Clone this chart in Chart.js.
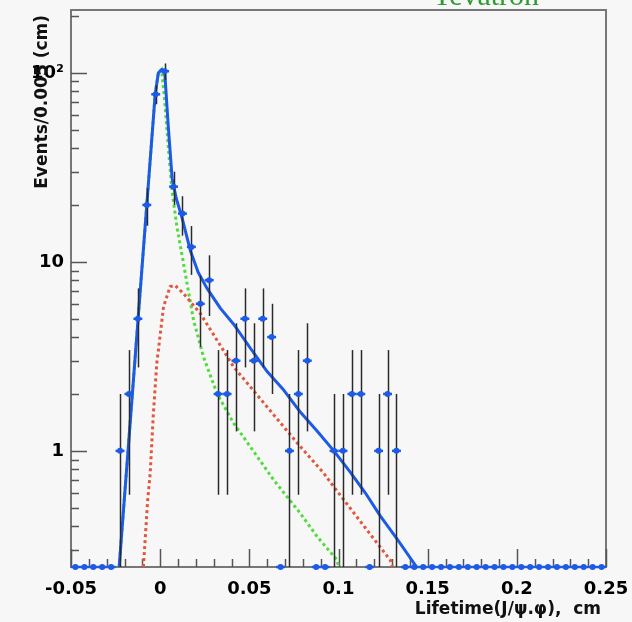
<!DOCTYPE html>
<html><head><meta charset="utf-8">
<script src="https://cdn.jsdelivr.net/npm/chart.js@4/dist/chart.umd.min.js"></script>
<style>html,body{margin:0;padding:0;background:#f7f7f7;}canvas{display:block;}</style>
</head><body>
<canvas id="c" width="632" height="622"></canvas>
<script>
// ---- data ----
const binWidth = 0.005;
const binCenters = [-0.0475,-0.0425,-0.0375,-0.0325,-0.0275,-0.0225,-0.0175,-0.0125,-0.0075,-0.0025,
  0.0025,0.0075,0.0125,0.0175,0.0225,0.0275,0.0325,0.0375,0.0425,0.0475,
  0.0525,0.0575,0.0625,0.0675,0.0725,0.0775,0.0825,0.0875,0.0925,0.0975,
  0.1025,0.1075,0.1125,0.1175,0.1225,0.1275,0.1325,0.1375,0.1425,0.1475,
  0.1525,0.1575,0.1625,0.1675,0.1725,0.1775,0.1825,0.1875,0.1925,0.1975,
  0.2025,0.2075,0.2125,0.2175,0.2225,0.2275,0.2325,0.2375,0.2425,0.2475];
const counts = [0,0,0,0,0,1,2,5,20,77,
  102,25,18,12,6,8,2,2,3,5,
  3,5,4,0,1,2,3,0,0,1,
  1,2,2,0,1,2,1,0,0,0,
  0,0,0,0,0,0,0,0,0,0,
  0,0,0,0,0,0,0,0,0,0];
const xTickValues = [-0.05,0,0.05,0.1,0.15,0.2,0.25];
const xTickLabels = ["-0.05","0","0.05","0.1","0.15","0.2","0.25"];
const yTickValues = [1,10,100];
const yTickLabels = ["1","10","10\u00B2"];
// total fit (blue solid)
const totalX = [-0.0230,-0.0075,-0.0028,-0.0010,0.0008,0.0025,0.0045,0.0067,0.0090,0.0122,0.0169,0.0213,0.0262,0.0337,0.0412,0.0506,0.0601,0.0694,0.0787,0.0881,0.0974,0.1067,0.1150,0.1236,0.1330,0.1438];
const totalY = [0.243,20,77,100,104,103,52.8,27.7,21.7,17.2,11.5,8.8,7.26,5.69,4.68,3.49,2.62,2.09,1.6,1.27,1.0,0.77,0.6,0.45,0.34,0.243];
// prompt component (green dotted)
const promptX = [-0.0230,-0.0075,-0.0028,-0.0010,0.0008,0.0025,0.0047,0.0066,0.0094,0.0131,0.0187,0.0243,0.0319,0.0412,0.0506,0.0637,0.0787,0.0881,0.0993,0.1000];
const promptY = [0.243,20,77,100,104,72,39,24,15.3,9.8,4.92,3.14,2.01,1.40,1.05,0.70,0.466,0.351,0.264,0.243];
// signal component (red dotted)
const signalX = [-0.0094,-0.0070,-0.0056,-0.0038,-0.0019,0.0019,0.0056,0.0084,0.0131,0.0225,0.0319,0.0412,0.0506,0.0599,0.0693,0.0787,0.0918,0.0974,0.1161,0.1292,0.1303];
const signalY = [0.243,0.548,0.76,1.58,2.9,5.8,7.4,7.5,6.8,5.33,3.85,2.78,2.18,1.71,1.34,1.05,0.76,0.645,0.38,0.263,0.243];

const yMin = 0.243, yMax = 215;
const xMin = -0.05, xMax = 0.25;

const BLUE = '#1d5ae6', RED = '#e2573f', GREEN = '#4fdc3c';

const toPts = (xs, ys) => xs.map((x, i) => ({x, y: ys[i]}));
const dataPts = [], zeroPts = [];
binCenters.forEach((x, i) => {
  if (counts[i] > 0) dataPts.push({x, y: counts[i], n: counts[i]});
  else zeroPts.push({x, y: yMin, n: 0});
});

const decorPlugin = {
  id: 'decor',
  beforeDatasetsDraw(chart) {
    const {ctx, chartArea: a, scales: {x, y}} = chart;
    ctx.save();
    ctx.strokeStyle = '#777';
    ctx.lineWidth = 2;
    ctx.strokeRect(a.left, a.top, a.right - a.left, a.bottom - a.top);
    ctx.lineWidth = 1.5;
    ctx.strokeStyle = '#555';
    for (let e = -1; e <= 2; e++) {
      for (let k = 1; k <= 9; k++) {
        const v = k * Math.pow(10, e);
        if (v < yMin || v > yMax) continue;
        const py = Math.round(y.getPixelForValue(v)) + 0.5;
        ctx.beginPath();
        ctx.moveTo(a.left, py);
        ctx.lineTo(a.left + (k === 1 ? 16 : 8), py);
        ctx.stroke();
      }
    }
    for (let j = -5; j <= 25; j++) {
      const v = j / 100;
      const px = Math.round(x.getPixelForValue(v)) + 0.5;
      const len = (j % 5 === 0) ? 18 : 8;
      ctx.beginPath();
      ctx.moveTo(px, a.bottom);
      ctx.lineTo(px, a.bottom - len);
      ctx.stroke();
    }
    ctx.restore();
  },
  beforeDatasetDraw(chart, args) {
    if (args.index !== 0 && args.index !== 1) return;
    const {ctx, chartArea: a, scales: {x, y}} = chart;
    const ds = chart.data.datasets[args.index].data;
    ctx.save();
    ds.forEach(p => {
      const px = x.getPixelForValue(p.x);
      if (p.n > 0) {
        const err = Math.sqrt(p.n);
        const hi = Math.min(p.n + err, yMax);
        const lo = Math.max(p.n - err, yMin);
        ctx.strokeStyle = '#2a2a2a';
        ctx.lineWidth = 1.5;
        ctx.beginPath();
        ctx.moveTo(Math.round(px) + 0.5, y.getPixelForValue(hi));
        ctx.lineTo(Math.round(px) + 0.5, Math.min(y.getPixelForValue(lo), a.bottom));
        ctx.stroke();
      }
      const py = y.getPixelForValue(p.y);
      ctx.strokeStyle = BLUE;
      ctx.lineWidth = 2.5;
      ctx.beginPath();
      ctx.moveTo(x.getPixelForValue(p.x - binWidth / 2), py);
      ctx.lineTo(x.getPixelForValue(p.x + binWidth / 2), py);
      ctx.stroke();
    });
    ctx.restore();
  },
  afterDraw(chart) {
    const {ctx, chartArea: a} = chart;
    ctx.save();
    ctx.fillStyle = '#111';
    ctx.font = 'bold 17px "DejaVu Sans", sans-serif';
    ctx.translate(47, a.top + 5);
    ctx.rotate(-Math.PI / 2);
    ctx.textAlign = 'right';
    ctx.textBaseline = 'alphabetic';
    ctx.fillText('Events/0.005 (cm)', 0, 0);
    ctx.restore();
    ctx.save();
    ctx.fillStyle = '#111';
    ctx.font = 'bold 17px "DejaVu Sans", sans-serif';
    ctx.textAlign = 'right';
    ctx.textBaseline = 'alphabetic';
    ctx.fillText('Lifetime(J/\u03C8.\u03C6),  cm', a.right - 5, 614);
    ctx.fillStyle = '#2f9a2f';
    ctx.font = '30px "Liberation Serif", "Times New Roman", serif';
    ctx.textAlign = 'center';
    ctx.fillText('Tevatron', 486, 5);
    ctx.restore();
  }
};

new Chart(document.getElementById('c'), {
  type: 'scatter',
  data: {
    datasets: [
      {label: 'data', data: dataPts, pointRadius: 3, pointHoverRadius: 3, backgroundColor: BLUE, borderColor: BLUE, borderWidth: 0, showLine: false, order: 0, clip: false},
      {label: 'zero', data: zeroPts, pointRadius: 3, pointHoverRadius: 3, backgroundColor: BLUE, borderColor: BLUE, borderWidth: 0, showLine: false, order: 0, clip: false},
      {label: 'total', data: toPts(totalX, totalY), showLine: true, borderColor: BLUE, borderWidth: 3, pointRadius: 0, tension: 0, borderJoinStyle: 'round', order: 1},
      {label: 'signal', data: toPts(signalX, signalY), showLine: true, borderColor: RED, borderWidth: 3, borderDash: [3, 3], pointRadius: 0, tension: 0, order: 2},
      {label: 'prompt', data: toPts(promptX, promptY), showLine: true, borderColor: GREEN, borderWidth: 3, borderDash: [3, 3], pointRadius: 0, tension: 0, order: 2}
    ]
  },
  options: {
    responsive: false,
    animation: false,
    events: [],
    layout: {padding: {top: 10, right: 26, left: 0, bottom: 0}},
    plugins: {legend: {display: false}, tooltip: {enabled: false}},
    scales: {
      x: {
        type: 'linear', min: xMin, max: xMax,
        grid: {display: false, drawTicks: false},
        border: {display: false},
        afterBuildTicks: s => { s.ticks = xTickValues.map(v => ({value: v})); },
        afterFit: s => { s.height = 55; s.paddingLeft = 0; s.paddingRight = 0; },
        ticks: {
          padding: 12, color: '#000', maxRotation: 0, autoSkip: false,
          font: {family: '"DejaVu Sans"', weight: 'bold', size: 18},
          callback: (v, i) => xTickLabels[i]
        }
      },
      y: {
        type: 'logarithmic', min: yMin, max: yMax,
        grid: {display: false, drawTicks: false},
        border: {display: false},
        afterBuildTicks: s => { s.ticks = yTickValues.map(v => ({value: v})); },
        afterFit: s => { s.width = 71; s.paddingTop = 0; s.paddingBottom = 0; },
        ticks: {
          padding: 7, color: '#000', autoSkip: false,
          font: {family: '"DejaVu Sans"', weight: 'bold', size: 18},
          callback: (v, i) => yTickLabels[i]
        }
      }
    }
  },
  plugins: [decorPlugin]
});
</script>
</body></html>
